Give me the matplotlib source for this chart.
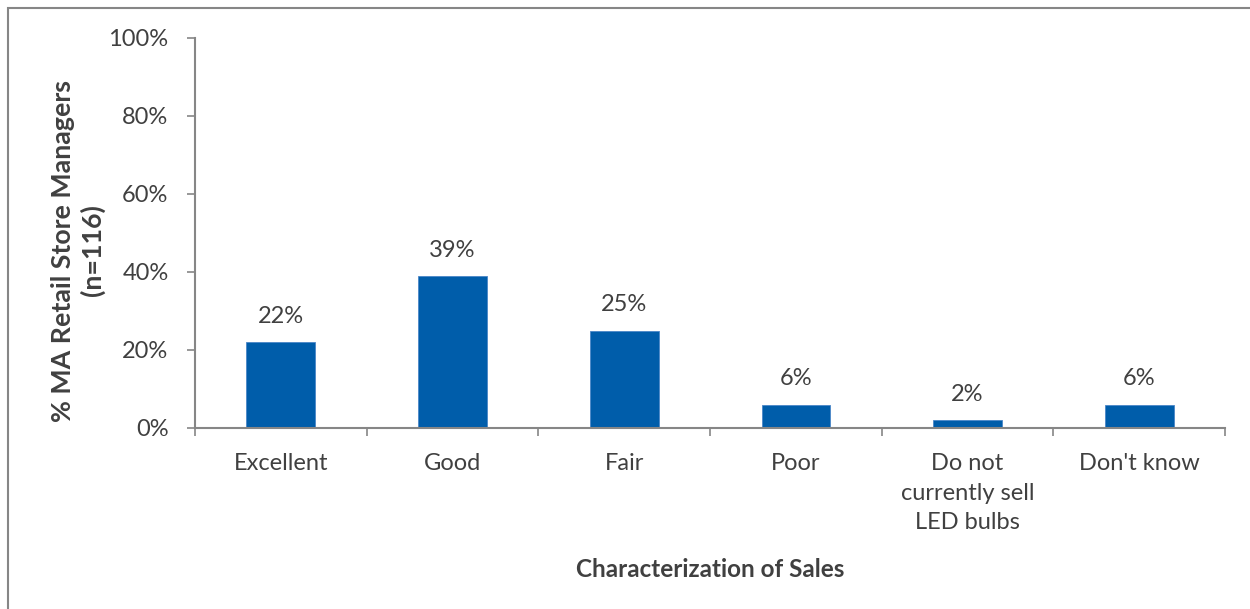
import matplotlib.pyplot as plt
from matplotlib.patches import Rectangle
from matplotlib.ticker import FuncFormatter

categories = ['Excellent', 'Good', 'Fair', 'Poor',
              'Do not\ncurrently sell\nLED bulbs', "Don't know"]
shares = [22, 39, 25, 6, 2, 6]

plt.rcParams['font.family'] = ['Lato', 'DejaVu Sans']
text_color = '#404040'
axis_color = '#868686'
bar_color = '#005DAA'


def main():
    fig = plt.figure(figsize=(12.5, 6.09), dpi=100)
    # outer frame (only top/left edges fall inside the canvas)
    fig.patches.append(Rectangle((8 / 1250, -0.1), 1.2, 1.1 - 8 / 609,
                                 transform=fig.transFigure, fill=False,
                                 edgecolor=axis_color, linewidth=1.5))

    ax = fig.add_axes([195 / 1250, (609 - 428) / 609, 1030 / 1250, 390 / 609])
    x = range(len(categories))
    ax.bar(x, shares, width=0.4, color=bar_color, edgecolor='#4A86C8',
           linewidth=0.6, zorder=2)

    for xi, v in zip(x, shares):
        ax.annotate(f'{v}%', (xi, v), xytext=(0, 11), textcoords='offset points',
                    ha='center', va='bottom', fontsize=17, color=text_color)

    ax.set_xlim(-0.5, len(categories) - 0.5)
    ax.set_ylim(0, 100)
    ax.set_yticks(range(0, 101, 20))
    ax.yaxis.set_major_formatter(FuncFormatter(lambda v, _: f'{v:.0f}%'))

    # category boundaries carry the x ticks, labels sit at the centres
    ax.set_xticks([i - 0.5 for i in range(len(categories) + 1)])
    ax.set_xticklabels([])
    ax.set_xticks(list(x), minor=True)
    ax.set_xticklabels(categories, minor=True, fontsize=17, color=text_color,
                       linespacing=1.5)
    ax.tick_params(axis='x', which='major', length=6, width=1.2, color=axis_color,
                   direction='out')
    ax.tick_params(axis='x', which='minor', length=0, pad=18)
    ax.tick_params(axis='y', length=6, width=1.2, color=axis_color, pad=13,
                   labelsize=17, labelcolor=text_color)

    for side in ('top', 'right'):
        ax.spines[side].set_visible(False)
    for side in ('left', 'bottom'):
        ax.spines[side].set_color(axis_color)
        ax.spines[side].set_linewidth(1.5)

    ax.set_ylabel('% MA Retail Store Managers\n(n=116)', fontsize=19.3,
                  fontweight='bold', color=text_color, linespacing=1.25)
    ax.yaxis.set_label_coords(-0.087, 0.455)
    ax.set_xlabel('Characterization of Sales', fontsize=17.5, fontweight='bold',
                  color=text_color, labelpad=18)

    fig.savefig('out.png', dpi=100)


if __name__ == '__main__':
    main()
